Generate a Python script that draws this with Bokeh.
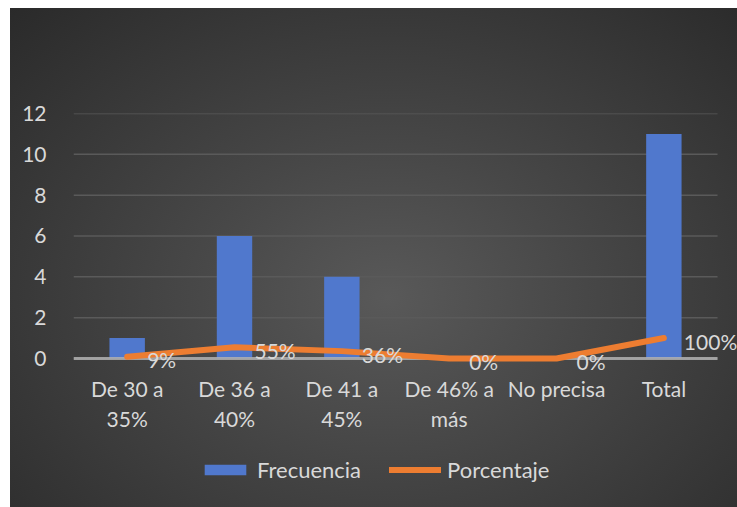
from bokeh.plotting import figure
from bokeh.models import ColumnDataSource, Range1d, Legend, LegendItem, Spacer
from bokeh.layouts import column, row
from bokeh.core.properties import value
from bokeh.embed import file_html
from bokeh.resources import INLINE

# ---- data ----
categories = ["De 30 a 35%", "De 36 a 40%", "De 41 a 45%", "De 46% a más", "No precisa", "Total"]
tick_labels = ["De 30 a\n35%", "De 36 a\n40%", "De 41 a\n45%", "De 46% a\nmás", "No precisa", "Total"]
frecuencia = [1, 6, 4, 0, 0, 11]
porcentaje = [0.09, 0.55, 0.36, 0.0, 0.0, 1.00]
y_ticks = [0, 2, 4, 6, 8, 10, 12]

n = len(categories)
xpos = list(range(n))
pct_labels = [f"{round(v * 100)}%" for v in porcentaje]
src = ColumnDataSource(dict(x=xpos, cat=categories, tick=tick_labels, zero=[0] * n,
                            frec=frecuencia, pct=porcentaje, lab=pct_labels))
grid_src = ColumnDataSource(dict(y=y_ticks, x0=[-0.5] * len(y_ticks), x1=[n - 0.5] * len(y_ticks)))

FONT = "Lato"
FS = "21px"
TXT = "#d9d9d9"

p = figure(width=727, height=499, x_range=Range1d(-0.5, n - 0.5 + 0.186), y_range=Range1d(-7.3, 12),
           output_backend="svg", toolbar_location=None,
           min_border_left=63, min_border_right=0, min_border_top=105, min_border_bottom=0)
p.border_fill_color = None
p.background_fill_color = None
p.outline_line_color = None
p.styles = {"background-image": "radial-gradient(ellipse farthest-corner at 52% 58%, #595959 0%, #484848 35%, #2a2a2a 100%)"}

# grid lines at the y ticks, spanning the category band
p.segment(x0="x0", x1="x1", y0="y", y1="y", source=grid_src, line_color="#5a5a5a", line_width=1.5)

bars = p.vbar(x="x", top="frec", width=0.33, source=src, fill_color="#5078cd", line_color=None)

# category axis line at 0
p.segment(x0=-0.5, x1=n - 0.5, y0=0, y1=0, line_color="#b0b0b0", line_width=3, line_alpha=0.85)

ln = p.line(x="x", y="pct", source=src, line_color="#ed7d31", line_width=6,
            line_cap="round", line_join="round")
p.text(x="x", y="pct", text="lab", source=src, x_offset=20, y_offset=3,
       text_align="left", text_baseline="middle", text_color=TXT,
       text_font=value(FONT), text_font_size=FS)

# category labels below the axis line
p.text(x="x", y="zero", text="tick", source=src, y_offset=18,
       text_align="center", text_baseline="top", text_color=TXT,
       text_font=value(FONT), text_font_size=FS, text_line_height=1.18)

# axes
p.xaxis.visible = False
p.yaxis.ticker = y_ticks
p.yaxis.axis_line_color = None
p.yaxis.major_tick_line_color = None
p.yaxis.minor_tick_line_color = None
p.yaxis.major_label_standoff = 21
p.yaxis.major_label_text_color = TXT
p.yaxis.major_label_text_font = FONT
p.yaxis.major_label_text_font_size = FS
p.xgrid.visible = False
p.ygrid.visible = False

legend = Legend(items=[LegendItem(label="Frecuencia", renderers=[bars]),
                       LegendItem(label="Porcentaje", renderers=[ln])],
                orientation="horizontal", location=(126, 24),
                glyph_width=52, glyph_height=13, label_standoff=6, spacing=28,
                padding=0, margin=0, border_line_color=None, background_fill_color=None,
                label_text_color=TXT, label_text_font=FONT, label_text_font_size="22px")
p.add_layout(legend, "center")

layout = column(Spacer(height=8), row(Spacer(width=10), p))
open("out.html", "w").write(file_html(layout, INLINE))
